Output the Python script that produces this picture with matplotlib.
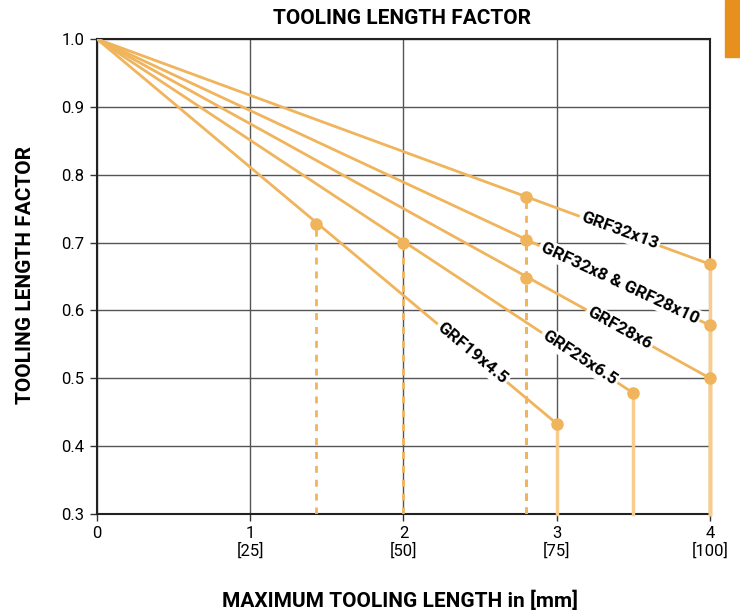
import numpy as np
import matplotlib.pyplot as plt
from matplotlib.patches import Rectangle

# series: line from (0, 1.0) to end point, intermediate marker point
names = ["GRF32x13", "GRF32x8 & GRF28x10", "GRF28x6", "GRF25x6.5", "GRF19x4.5"]
end_x = [4.0, 4.0, 4.0, 3.5, 3.0]
end_y = [0.668, 0.578, 0.500, 0.478, 0.433]
mid_x = [2.8, 2.8, 2.8, 2.0, 1.43]
mid_y = [0.767, 0.703, 0.648, 0.700, 0.727]
label_x = [3.41, 3.41, 3.41, 3.15, 2.45]

xticks = [0, 1, 2, 3, 4]
xticklabels = ["0", "1\n[25]", "2\n[50]", "3\n[75]", "4\n[100]"]
yticks = [0.3, 0.4, 0.5, 0.6, 0.7, 0.8, 0.9, 1.0]

plt.rcParams["font.family"] = ["Roboto", "DejaVu Sans"]

line_c = "#F0B45C"
stem_c = "#F6CD8E"

fig = plt.figure(figsize=(7.4, 6.14), dpi=100)
ax = fig.add_axes([0.131, 0.163, 0.8285, 0.7735])
ax.set_xlim(0, 4)
ax.set_ylim(0.3, 1.0)

ax.set_xticks(xticks)
ax.set_xticklabels(xticklabels, fontsize=12, linespacing=1.05)
ax.set_yticks(yticks)
ax.set_yticklabels([f"{v:.1f}" for v in yticks], fontsize=12)
ax.tick_params(length=5, width=1, color="#333333", pad=4)
ax.grid(True, color="#555555", linewidth=1)
ax.set_axisbelow(True)
for s in ax.spines.values():
    s.set_color("#222222")
    s.set_linewidth(1.5)

for i in range(len(names)):
    # vertical drop lines
    ax.plot([mid_x[i], mid_x[i]], [0.3, mid_y[i]], color=line_c, lw=2,
            ls=(0, (2.5, 2.5)), zorder=3)
    ax.plot([end_x[i], end_x[i]], [0.3, end_y[i]], color=stem_c, lw=2.5,
            zorder=7, clip_on=False)
    ax.plot([0, end_x[i]], [1.0, end_y[i]], color=line_c, lw=2, zorder=4)
    ax.plot([mid_x[i], end_x[i]], [mid_y[i], end_y[i]], ls="none", marker="o",
            ms=8, color=line_c, zorder=8, clip_on=False)

fig.canvas.draw()
for i in range(len(names)):
    p0 = ax.transData.transform((0, 1.0))
    p1 = ax.transData.transform((end_x[i], end_y[i]))
    ang = np.degrees(np.arctan2(p1[1] - p0[1], p1[0] - p0[0]))
    ly = 1.0 + (end_y[i] - 1.0) * label_x[i] / end_x[i]
    ax.text(label_x[i], ly, names[i], rotation=ang, rotation_mode="anchor",
            ha="center", va="center", fontsize=12.5, fontweight="bold",
            bbox=dict(boxstyle="square,pad=0.12", fc="white", ec="none"),
            zorder=6)

fig.text(0.543, 0.97, "TOOLING LENGTH FACTOR", ha="center", va="center",
         fontsize=15, fontweight="bold")
fig.text(0.54, 0.022, "MAXIMUM TOOLING LENGTH in [mm]", ha="center",
         va="center", fontsize=15, fontweight="bold")
fig.text(0.034, 0.552, "TOOLING LENGTH FACTOR", ha="center", va="center",
         rotation=90, fontsize=15, fontweight="bold")

fig.patches.append(Rectangle((725 / 740, 1 - 57 / 614), 15 / 740, 57 / 614,
                             transform=fig.transFigure, color="#E8901E"))

fig.savefig("out.png", dpi=100)
